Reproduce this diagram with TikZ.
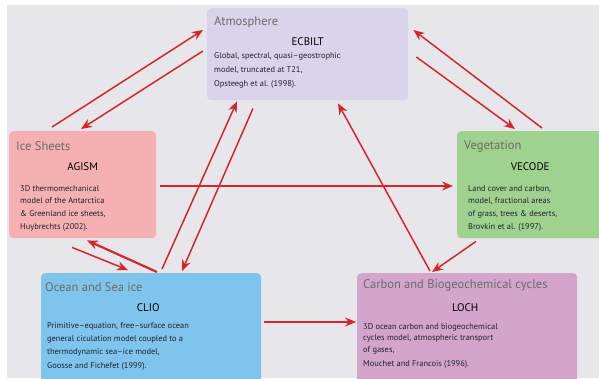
\documentclass[tikz,border=0pt]{standalone}
\usepackage{fontspec}
\setmainfont{PT Sans}
\usepackage{tikz}
\usetikzlibrary{arrows.meta, positioning}

\definecolor{bggray}{HTML}{E7E7EB}
\definecolor{atmfill}{HTML}{D9D4EB}
\definecolor{icefill}{HTML}{F5B1B1}
\definecolor{vegfill}{HTML}{9FD28F}
\definecolor{oceanfill}{HTML}{7EC4EC}
\definecolor{carbonfill}{HTML}{D3A5CD}
\definecolor{linkred}{HTML}{D7262B}
\definecolor{titlegray}{HTML}{6B6B6B}
\definecolor{desctext}{HTML}{22222C}

\begin{document}
\begin{tikzpicture}[x=1pt, y=-1pt,
    box/.style={rectangle, rounded corners=4pt, anchor=north west, inner sep=0pt},
    title/.style={anchor=west, inner sep=0pt, text=titlegray, font=\fontsize{12.5}{14}\selectfont},
    model/.style={inner sep=0pt, font=\fontsize{11}{12}\selectfont},
    desc/.style={anchor=north west, align=left, inner sep=0pt, text=desctext},
    link/.style={draw=linkred, line width=1.5pt, -{Stealth[length=11pt, width=9pt]}}]
        \useasboundingbox (0,0) rectangle (599,378);
        \clip (0,0) rectangle (599,378);
        \fill[bggray] (7,5) rectangle (599,378);

        \node[box, fill=atmfill,    minimum width=201pt, minimum height=92pt]  (atm)    at (207,8)   {};
        \node[box, fill=icefill,    minimum width=147pt, minimum height=107pt] (ice)    at (9,131)   {};
        \node[box, fill=vegfill,    minimum width=148pt, minimum height=107pt] (veg)    at (457,131) {};
        \node[box, fill=oceanfill,  minimum width=220pt, minimum height=115pt] (ocean)  at (41,273)  {};
        \node[box, fill=carbonfill, minimum width=220pt, minimum height=115pt] (carbon) at (357,273) {};

        \node[title] (atm_t)    at ([xshift=7pt,yshift=-14pt]atm.north west)    {Atmosphere};
        \node[title] (ice_t)    at ([xshift=7pt,yshift=-15pt]ice.north west)    {Ice Sheets};
        \node[title] (veg_t)    at ([xshift=7pt,yshift=-15pt]veg.north west)    {Vegetation};
        \node[title] (ocean_t)  at ([xshift=4pt,yshift=-14pt]ocean.north west)  {Ocean and Sea ice};
        \node[title] (carbon_t) at ([xshift=6pt,yshift=-12pt]carbon.north west) {Carbon and Biogeochemical cycles};

        \node[model] (atm_m)    at ([yshift=-34pt]atm.north)    {ECBILT};
        \node[model] (ice_m)    at ([yshift=-36pt]ice.north)    {AGISM};
        \node[model] (veg_m)    at ([xshift=-1pt,yshift=-36pt]veg.north) {VECODE};
        \node[model] (ocean_m)  at ([xshift=-3pt,yshift=-35pt]ocean.north)  {CLIO};
        \node[model] (carbon_m) at ([xshift=-2pt,yshift=-35pt]carbon.north) {LOCH};

        \node[desc, font=\fontsize{8.4}{14}\selectfont] (atm_d) at ([xshift=7pt,yshift=-44pt]atm.north west)
          {Global, spectral, quasi--geostrophic\\model, truncated at T21,\\Opsteegh et al. (1998).};
        \node[desc, font=\fontsize{8.4}{12.7}\selectfont] (ice_d) at ([xshift=11pt,yshift=-54pt]ice.north west)
          {3D thermomechanical\\model of the Antarctica\\\& Greenland ice sheets,\\Huybrechts (2002).};
        \node[desc, font=\fontsize{8.4}{12.7}\selectfont] (veg_d) at ([xshift=11pt,yshift=-54pt]veg.north west)
          {Land cover and carbon,\\model, fractional areas\\of grass, trees \& deserts,\\Brovkin et al. (1997).};
        \node[desc, font=\fontsize{8.4}{13.3}\selectfont] (ocean_d) at ([xshift=6pt,yshift=-49pt]ocean.north west)
          {Primitive--equation, free--surface ocean\\general ciculation model coupled to a\\thermodynamic sea--ice model,\\Goosse and Fichefet (1999).};
        \node[desc, font=\fontsize{8.4}{11.5}\selectfont] (carbon_d) at ([xshift=6pt,yshift=-50pt]carbon.north west)
          {3D ocean carbon and biogeochemical\\cycles model, atmospheric transport\\of gases,\\[3pt]Mouchet and Francois (1996).};

        \draw[link] ([xshift=43pt,yshift=4pt]ice.north west)    -- ([xshift=-4pt,yshift=-22pt]atm.north west);
        \draw[link] ([xshift=-4pt,yshift=-43pt]atm.north west)  -- ([xshift=72pt,yshift=2pt]ice.north west);
        \draw[link] ([xshift=8pt,yshift=-49pt]atm.north east)   -- ([xshift=58pt,yshift=2pt]veg.north west);
        \draw[link] ([xshift=85pt,yshift=3pt]veg.north west)    -- ([xshift=5pt,yshift=-22pt]atm.north east);
        \draw[link] ([xshift=4pt,yshift=-55pt]ice.north east)   -- ([xshift=-4pt,yshift=-55pt]veg.north west);
        \draw[link] ([xshift=121pt,yshift=4pt]ocean.north west) -- ([xshift=30pt,yshift=-1pt]atm.south west);
        \draw[link] ([xshift=46pt,yshift=-8pt]atm.south west)   -- ([xshift=141pt,yshift=2pt]ocean.north west);
        \draw[link] ([xshift=73pt,yshift=2pt]carbon.north west) -- ([xshift=131pt,yshift=-3pt]atm.south west);
        \draw[link] ([xshift=19pt,yshift=-3pt]veg.south west)   -- ([xshift=75pt,yshift=1pt]carbon.north west);
        \draw[link] ([xshift=3pt,yshift=-49pt]ocean.north east) -- ([xshift=-1pt,yshift=-49pt]carbon.north west);
        \draw[link] ([xshift=63pt,yshift=-9pt]ice.south west)   -- ([xshift=87pt,yshift=3pt]ocean.north west);
        \draw[link, line width=2.2pt] ([xshift=116pt,yshift=1pt]ocean.north west) -- ([xshift=78pt,yshift=-2pt]ice.south west);
\end{tikzpicture}
\end{document}
